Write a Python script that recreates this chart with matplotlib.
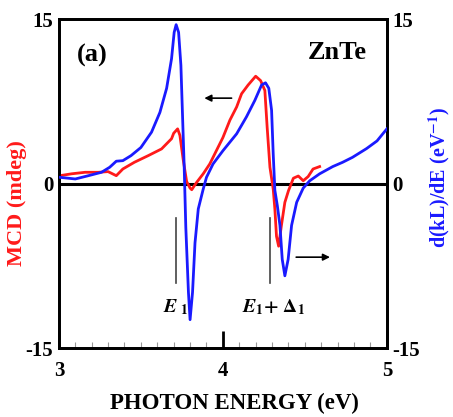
import matplotlib.pyplot as plt
from matplotlib.ticker import MultipleLocator

# MCD (left axis, red)
mcd_e = [3.006, 3.077, 3.16, 3.24, 3.30, 3.35, 3.39, 3.46, 3.545, 3.626, 3.687, 3.70,
         3.724, 3.738, 3.758, 3.779, 3.80, 3.81, 3.84, 3.88, 3.92, 3.96, 4.00, 4.043,
         4.084, 4.114, 4.154, 4.20, 4.23, 4.256, 4.27, 4.287, 4.307, 4.317, 4.327, 4.34,
         4.357, 4.378, 4.40, 4.43, 4.46, 4.49, 4.52, 4.55, 4.59]
mcd_val = [0.73, 0.9, 1.04, 1.04, 1.1, 0.73, 1.34, 1.95, 2.56, 3.17, 4.1, 4.6,
           5.0, 4.4, 2.2, 0.2, -0.4, -0.55, 0.12, 0.9, 1.8, 3.0, 4.2, 5.8,
           7.0, 8.2, 9.0, 9.8, 9.4, 8.5, 5.15, 1.5, -0.5, -2.3, -4.8, -5.7,
           -3.8, -1.7, -0.64, 0.5, 0.7, 0.27, 0.65, 1.34, 1.56]

# d(kL)/dE (right axis, blue)
dkl_e = [3.006, 3.10, 3.18, 3.26, 3.31, 3.35, 3.39, 3.44, 3.50, 3.565, 3.616, 3.657,
         3.687, 3.703, 3.715, 3.73, 3.744, 3.754, 3.764, 3.774, 3.79, 3.80, 3.815, 3.83,
         3.85, 3.88, 3.90, 3.94, 4.00, 4.084, 4.144, 4.195, 4.236, 4.26, 4.28, 4.297,
         4.307, 4.317, 4.332, 4.348, 4.362, 4.378, 4.398, 4.419, 4.45, 4.49, 4.53, 4.59,
         4.67, 4.73, 4.79, 4.876, 4.94, 5.00]
dkl_val = [0.58, 0.43, 0.73, 1.04, 1.5, 2.05, 2.1, 2.56, 3.3, 4.7, 6.5, 8.7,
           11.4, 13.8, 14.5, 13.8, 10.8, 6.2, 1.6, -4.0, -9.9, -12.4, -9.9, -5.4,
           -2.3, -0.5, 0.58, 1.8, 3.0, 4.55, 6.1, 7.6, 9.0, 9.2, 8.7, 6.7,
           2.7, -0.6, -2.0, -3.8, -6.9, -8.4, -6.9, -3.8, -1.7, -0.4, 0.27, 0.9,
           1.56, 1.95, 2.4, 3.2, 3.9, 5.0]

marker_e = [3.713, 4.287]
yticks = [-15, 0, 15]

RED = '#ff1a1a'
BLUE = '#1a1aff'


def main():
    plt.rcParams['font.family'] = ['Liberation Serif', 'DejaVu Serif']
    plt.rcParams['mathtext.fontset'] = 'stix'
    plt.rcParams['axes.unicode_minus'] = False

    fig = plt.figure(figsize=(4.53, 4.17), dpi=100)
    ax = fig.add_axes([0.130, 0.165, 0.724, 0.789])
    ax2 = ax.twinx()

    ax.plot(mcd_e, mcd_val, color=RED, lw=2.0, zorder=3, solid_joinstyle='round')
    ax2.plot(dkl_e, dkl_val, color=BLUE, lw=2.0, zorder=3, solid_joinstyle='round')
    ax.axhline(0, color='black', lw=2.2, zorder=2)

    for e in marker_e:
        ax.plot([e, e], [-3.1, -9.05], color='#444444', lw=1.2)

    ax.text(3.71, -11.3, r'$\boldsymbol{E}_{\mathbf{\ 1}}$', fontsize=14, ha='center', va='center')
    ax.text(4.31, -11.3, r'$\boldsymbol{E}_{\mathbf{1}}\mathbf{+\ \Delta_1}$', fontsize=14,
            ha='center', va='center')

    ax.annotate('', xy=(3.87, 7.8), xytext=(4.07, 7.8),
                arrowprops=dict(arrowstyle='-|>', color='black', lw=1.2, mutation_scale=10))
    ax.annotate('', xy=(4.67, -6.7), xytext=(4.43, -6.7),
                arrowprops=dict(arrowstyle='-|>', color='black', lw=1.2, mutation_scale=10))

    ax.text(3.11, 11.7, '(a)', fontsize=19, fontweight='bold', va='center')
    ax.text(4.88, 12.0, 'ZnTe', fontsize=19, fontweight='bold', ha='right', va='center')

    for a in (ax, ax2):
        a.set_xlim(3, 5)
        a.set_ylim(-15, 15)
        a.set_yticks(yticks)
        a.tick_params(axis='y', length=0, pad=4, labelsize=15)
        for lab in a.get_yticklabels():
            lab.set_fontweight('bold')
        for sp in a.spines.values():
            sp.set_linewidth(2.0)

    ax.set_xticks([3, 4, 5])
    ax.xaxis.set_minor_locator(MultipleLocator(0.1))
    ax.tick_params(axis='x', which='major', direction='in', length=12, width=2,
                   labelsize=15, pad=9)
    ax.tick_params(axis='x', which='minor', direction='in', length=4, width=0.8, color='#999999')
    for lab in ax.get_xticklabels():
        lab.set_fontweight('bold')

    ax.set_xlabel('PHOTON ENERGY (eV)', fontsize=16.5, fontweight='bold', labelpad=3)
    ax.xaxis.set_label_coords(0.535, -0.135)
    ax.set_ylabel('MCD (mdeg)', fontsize=16, fontweight='bold', color=RED)
    ax.yaxis.set_label_coords(-0.097, 0.44)
    ax2.set_ylabel(r'd(kL)/dE (eV$^{\mathbf{-1}}$)', fontsize=14.5, fontweight='bold', color=BLUE)
    ax2.yaxis.set_label_coords(1.122, 0.52)

    fig.savefig('out.png', dpi=100)
    plt.close(fig)


if __name__ == '__main__':
    main()
